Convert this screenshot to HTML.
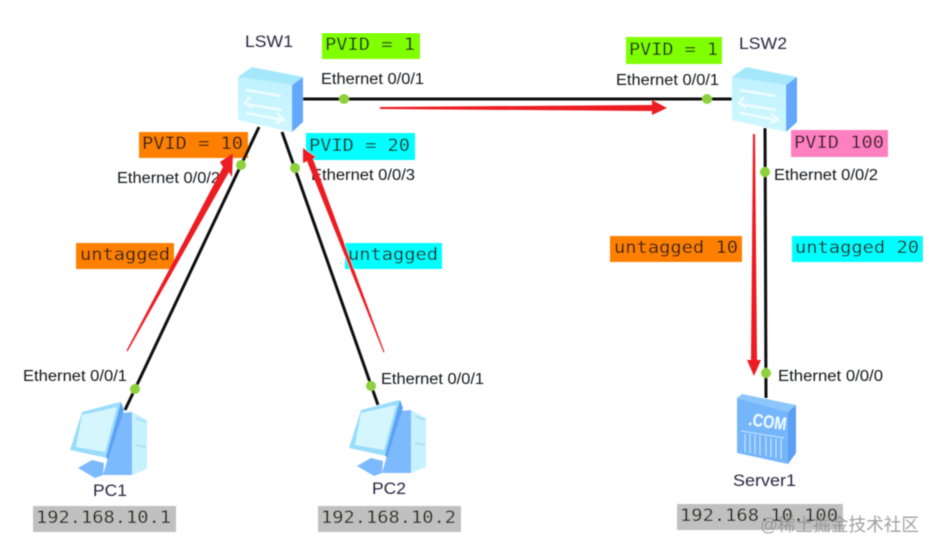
<!DOCTYPE html>
<html><head><meta charset="utf-8"><style>
html,body{margin:0;padding:0;background:#fff;width:937px;height:552px;overflow:hidden}
svg{display:block}
.m{font-family:"DejaVu Sans Mono","Liberation Mono",monospace;font-size:16.5px;fill:#1f1f18}
.s{font-family:"Liberation Sans",sans-serif;font-size:15.5px;fill:#15181e}
.n{font-family:"Liberation Sans",sans-serif;font-size:16.5px;fill:#2a2640}
.w{font-family:"Liberation Sans","Noto Sans CJK SC",sans-serif;font-size:18px;fill:#8a8a8a;fill-opacity:.8}
</style></head><body>
<svg width="937" height="552" viewBox="0 0 937 552" xmlns="http://www.w3.org/2000/svg">
<defs>
<linearGradient id="f" x1="0" y1="0" x2="0" y2="1"><stop offset="0" stop-color="#bff2fe"/><stop offset="1" stop-color="#d0f7ff"/></linearGradient>
<g id="sw">
<polygon points="238,77 252,67 303,77 292,85" fill="#a6e8fb"/>
<polygon points="238,77 292,85 292,132 238,120" fill="url(#f)"/>
<polygon points="292,85 303,77 303,122 292,132" fill="#64a8fb"/>
<g fill="none" stroke="#eefcff" stroke-width="2.5">
<path d="M246,90 L281,96"/>
<path d="M246,104 L282,110"/>
<path d="M250,97 L245,103 L252,108"/>
<path d="M246,113 L283,120"/>
<path d="M277,113 L284,120 L276,123"/>
</g>
</g>
<g id="pc">
<polygon points="121,413 132,412 132,475 103,475" fill="#7db9fd"/>
<polygon points="132,412 147,420 147,469 132,475" fill="#c6f1fe"/>
<path d="M136,418 L146,422 M136,445 L146,447" stroke="#8fd2f5" stroke-width="1" fill="none"/>
<polygon points="82,412 120,402 121,404 107,458 70,450" fill="#9adcfb"/>
<polygon points="82,415 117,407 105,452 76,447" fill="#d6f6fe"/>
<polygon points="121,402 124,410 108,460 106,457" fill="#5fa3f5"/>
<polygon points="78,468 92,460 104,463 103,475 95,478" fill="#7db9fd"/>
</g>
<filter id="b" x="0" y="0" width="100%" height="100%"><feGaussianBlur stdDeviation="0.45"/></filter>
</defs>
<g filter="url(#b)">

<rect x="322" y="33" width="98" height="26" fill="#7fff00"/>
<rect x="139" y="132" width="109" height="26" fill="#ff8000"/>
<rect x="306" y="133" width="109" height="27" fill="#00ffff"/>
<rect x="76" y="243" width="98" height="26" fill="#ff8000"/>
<rect x="345" y="243" width="97" height="26" fill="#00ffff"/>
<rect x="626" y="37" width="96" height="27" fill="#7fff00"/>
<rect x="791" y="130" width="97" height="27" fill="#ff80c0"/>
<rect x="610" y="236" width="132" height="26" fill="#ff8000"/>
<rect x="792" y="236" width="131" height="26" fill="#00ffff"/>
<rect x="33" y="506" width="143" height="26" fill="#c0c0c0"/>
<rect x="318" y="506" width="143" height="26" fill="#c0c0c0"/>
<rect x="677" y="504" width="166" height="26" fill="#c0c0c0"/>

<text class="m" x="325" y="50" textLength="90" lengthAdjust="spacingAndGlyphs">PVID = 1</text>
<text class="m" x="142" y="149" textLength="101" lengthAdjust="spacingAndGlyphs">PVID = 10</text>
<text class="m" x="309" y="151" textLength="101" lengthAdjust="spacingAndGlyphs">PVID = 20</text>
<text class="m" x="80" y="260" textLength="90" lengthAdjust="spacingAndGlyphs">untagged</text>
<text class="m" x="348" y="260" textLength="90" lengthAdjust="spacingAndGlyphs">untagged</text>
<text class="m" x="629" y="55" textLength="89" lengthAdjust="spacingAndGlyphs">PVID = 1</text>
<text class="m" x="794" y="148" textLength="90" lengthAdjust="spacingAndGlyphs">PVID 100</text>
<text class="m" x="614" y="253" textLength="124" lengthAdjust="spacingAndGlyphs">untagged 10</text>
<text class="m" x="795" y="253" textLength="124" lengthAdjust="spacingAndGlyphs">untagged 20</text>
<text class="m" x="36" y="523" textLength="135" lengthAdjust="spacingAndGlyphs">192.168.10.1</text>
<text class="m" x="321" y="523" textLength="135" lengthAdjust="spacingAndGlyphs">192.168.10.2</text>
<text class="m" x="680" y="521" textLength="158" lengthAdjust="spacingAndGlyphs">192.168.10.100</text>

<g stroke="#111" stroke-width="3" fill="none">
<line x1="303" y1="99" x2="732" y2="99"/>
<line x1="259" y1="127" x2="125" y2="410"/>
<line x1="282" y1="132" x2="378" y2="405"/>
<line x1="765" y1="128" x2="766" y2="398"/>
</g>

<use href="#sw"/>
<use href="#sw" x="494"/>
<use href="#pc"/>
<use href="#pc" x="279" y="-2"/>

<polygon points="737,398 742,394 796,405 788,412" fill="#8cc6fb"/>
<polygon points="737,398 788,412 788,464 737,453" fill="#74b6fb"/>
<polygon points="788,412 796,405 796,453 788,464" fill="#5c9ff5"/>
<path d="M741,431 L784,438 M745,434 V452 M750,434 V453 M755,435 V454 M760,436 V455 M766,437 V456 M771,438 V457 M776,439 V458 M781,439 V459" stroke="#c4e6fd" stroke-width="1" fill="none"/>
<text x="748" y="425" transform="rotate(8 748 425)" font-family="Liberation Sans,sans-serif" font-weight="bold" font-size="18" fill="#eefaff" textLength="38" lengthAdjust="spacingAndGlyphs">.COM</text>

<g fill="#8ed03c">
<circle cx="344" cy="99" r="5"/><circle cx="707" cy="99" r="5"/>
<circle cx="241" cy="165" r="5"/><circle cx="295" cy="168" r="5"/>
<circle cx="135" cy="389" r="5"/><circle cx="371" cy="386" r="5"/>
<circle cx="765" cy="172" r="5"/><circle cx="766" cy="373" r="5"/>
</g>

<text class="s" x="321" y="84" textLength="103" lengthAdjust="spacingAndGlyphs">Ethernet 0/0/1</text>
<text class="s" x="117" y="183" textLength="103" lengthAdjust="spacingAndGlyphs">Ethernet 0/0/2</text>
<text class="s" x="311" y="180" textLength="104" lengthAdjust="spacingAndGlyphs">Ethernet 0/0/3</text>
<text class="s" x="616" y="85" textLength="103" lengthAdjust="spacingAndGlyphs">Ethernet 0/0/1</text>
<text class="s" x="774" y="180" textLength="104" lengthAdjust="spacingAndGlyphs">Ethernet 0/0/2</text>
<text class="s" x="23" y="381" textLength="104" lengthAdjust="spacingAndGlyphs">Ethernet 0/0/1</text>
<text class="s" x="381" y="384" textLength="103" lengthAdjust="spacingAndGlyphs">Ethernet 0/0/1</text>
<text class="s" x="778" y="381" textLength="105" lengthAdjust="spacingAndGlyphs">Ethernet 0/0/0</text>
<text class="n" x="245" y="47" textLength="48" lengthAdjust="spacingAndGlyphs">LSW1</text>
<text class="n" x="739" y="49" textLength="48" lengthAdjust="spacingAndGlyphs">LSW2</text>
<text class="n" x="93" y="496" textLength="34" lengthAdjust="spacingAndGlyphs">PC1</text>
<text class="n" x="372" y="494" textLength="34" lengthAdjust="spacingAndGlyphs">PC2</text>
<text class="n" x="733" y="486" textLength="63" lengthAdjust="spacingAndGlyphs">Server1</text>

<g fill="#ec1c24">
<polygon points="126.5,350.5 127.5,351.5 229,172 232,177 233,153 220,162 223,167"/>
<polygon points="384.5,352 383.5,352.5 307,161 303,163 303,148 316,157 313,159"/>
<polygon points="380,107 380,109 652,111 652,115 667,108 652,100 652,105"/>
<polygon points="753,134 755,134 757,360 761,360 754,376 747,360 751,360"/>
</g>
<text class="w" x="760" y="531" textLength="159" lengthAdjust="spacingAndGlyphs">@稀土掘金技术社区</text>
</g>
</svg>
</body></html>
